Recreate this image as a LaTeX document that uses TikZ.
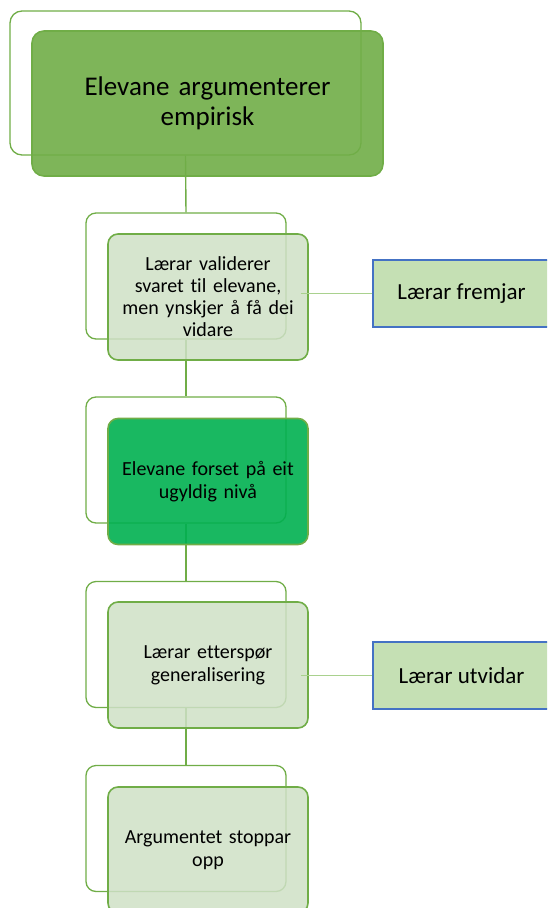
\documentclass[tikz,border=0pt]{standalone}
\usepackage{fontspec}
\setmainfont[Ligatures=CommonOff]{Carlito}
\begin{document}
\definecolor{gline}{HTML}{70AD47}
\definecolor{gtop}{HTML}{70AD47}
\definecolor{gpale}{HTML}{CFE0C6}
\definecolor{gbright}{HTML}{00B050}
\definecolor{sidefill}{HTML}{C5E0B4}
\definecolor{sideline}{HTML}{4472C4}
\definecolor{linkline}{HTML}{A9D18E}
\begin{tikzpicture}[x=1pt,y=-1pt,
  frame/.style={draw=gline,line width=1.3pt,rounded corners=10pt,
    minimum width=200pt,minimum height=126pt,inner sep=0pt},
  card/.style={draw=gline,line width=1.6pt,rounded corners=10pt,
    minimum width=200pt,minimum height=126pt,inner sep=0pt,
    fill opacity=0.85,text opacity=1,align=center,text width=180pt,
    font=\fontsize{20}{23}\selectfont},
  palecard/.style={card,fill=gpale},
  sidebox/.style={draw=sideline,line width=1.3pt,fill=sidefill,
    minimum width=177pt,minimum height=67pt,inner sep=0pt,
    font=\fontsize{23}{27}\selectfont},
  spine/.style={draw=gline,line width=1.4pt},
  link/.style={draw=linkline,line width=1pt}]
\useasboundingbox (0,0) rectangle (547,908);
\clip (0,0) rectangle (547,908);

% back outlines
\node[frame,minimum width=351pt,minimum height=144pt,rounded corners=12pt] (o1) at (185.5,83) {};
\node[frame] (o2) at (186,276) {};
\node[frame] (o3) at (186,460) {};
\node[frame] (o4) at (186,644.5) {};
\node[frame] (o5) at (186,828.5) {};

% vertical spine between the outlines
\draw[spine] (o1.south) -- (o2.north);
\draw[spine] (o2.south) -- (o3.north);
\draw[spine] (o3.south) -- (o4.north);
\draw[spine] (o4.south) -- (o5.north);

% side boxes
\node[sidebox] (s1) at (461.5,293.5) {Lærar fremjar};
\node[sidebox] (s2) at (461.5,675.5) {Lærar utvidar};

% front cards
\node[card,fill=gtop,fill opacity=0.9,minimum width=351pt,minimum height=145pt,
  rounded corners=12pt,text width=330pt,font=\fontsize{27}{30}\selectfont]
  (f1) at (207.5,103.5) {Elevane argumenterer\\empirisk};
\node[palecard,font=\fontsize{20}{22}\selectfont] (f2) at (208,297)
  {Lærar validerer\\svaret til elevane,\\men ynskjer å få dei\\vidare};
\node[card,fill=gbright,fill opacity=0.9] (f3) at (208,481.5)
  {Elevane forset på eit\\ugyldig nivå};
\node[palecard] (f4) at (208,665) {Lærar etterspør\\generalisering};
\node[palecard] (f5) at (208,850) {Argumentet stoppar\\opp};

% links to the side boxes
\draw[link] ([xshift=-8pt]f2.east |- s1.west) -- (s1.west);
\draw[link] ([xshift=-8pt]f4.east |- s2.west) -- (s2.west);
\end{tikzpicture}
\end{document}
